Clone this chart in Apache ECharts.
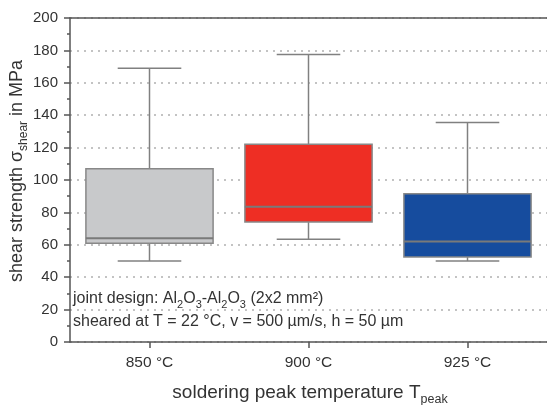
<!DOCTYPE html>
<html>
<head>
<meta charset="utf-8">
<script src="https://cdn.jsdelivr.net/npm/echarts@6/dist/echarts.min.js"></script>
<style>html,body{margin:0;padding:0;background:#fff;}#c{width:547px;height:405px;}</style>
</head>
<body>
<div id="c"></div>
<script>
const categories = ['850 °C', '900 °C', '925 °C'];
const minVals = [50, 63.5, 50];
const q1Vals = [61, 74, 52.5];
const medVals = [64, 83.5, 62];
const q3Vals = [107, 122, 91.5];
const maxVals = [169, 177.5, 135.5];
const yTicks = [0, 20, 40, 60, 80, 100, 120, 140, 160, 180, 200];

const boxColors = ['#c8c9cb', '#ee2e24', '#164c9e'];
const FONT = 'Liberation Sans, Arial, sans-serif';
const TXT = '#333333';

const chart = echarts.init(document.getElementById('c'), null, {renderer: 'canvas'});

const boxData = categories.map((c, i) => [i, minVals[i], q1Vals[i], medVals[i], q3Vals[i], maxVals[i]]);

function renderBox(params, api) {
  const i = api.value(0);
  const band = api.size([1, 0])[0];
  const bw = band * 0.8, cw = band * 0.4;
  const pMin = api.coord([i, api.value(1)]);
  const pQ1 = api.coord([i, api.value(2)]);
  const pMed = api.coord([i, api.value(3)]);
  const pQ3 = api.coord([i, api.value(4)]);
  const pMax = api.coord([i, api.value(5)]);
  const x = pMin[0];
  const ws = {stroke: '#808080', lineWidth: 1.5};
  return {
    type: 'group',
    children: [
      {type: 'line', shape: {x1: x, y1: pQ3[1], x2: x, y2: pMax[1]}, style: ws},
      {type: 'line', shape: {x1: x, y1: pMin[1], x2: x, y2: pQ1[1]}, style: ws},
      {type: 'line', shape: {x1: x - cw / 2, y1: pMax[1], x2: x + cw / 2, y2: pMax[1]}, style: ws},
      {type: 'line', shape: {x1: x - cw / 2, y1: pMin[1], x2: x + cw / 2, y2: pMin[1]}, style: ws},
      {type: 'rect', shape: {x: x - bw / 2, y: pQ3[1], width: bw, height: pQ1[1] - pQ3[1]},
        style: {fill: boxColors[i], stroke: '#888888', lineWidth: 1.5}},
      {type: 'line', shape: {x1: x - bw / 2, y1: pMed[1], x2: x + bw / 2, y2: pMed[1]},
        style: {stroke: '#7a7a7a', lineWidth: 2}}
    ]
  };
}

const axisLineStyle = {color: '#555555', width: 1.5};

const option = {
  animation: false,
  backgroundColor: '#ffffff',
  grid: [
    {left: 70, right: -3, top: 18, bottom: 63, containLabel: false}
  ],
  xAxis: [
    {gridIndex: 0, type: 'category', data: categories, position: 'bottom',
      axisLine: {show: true, onZero: false, lineStyle: axisLineStyle},
      axisTick: {show: true, alignWithLabel: true, length: 6, lineStyle: {color: '#555555', width: 1.5}},
      axisLabel: {show: true, fontSize: 15.5, fontFamily: FONT, color: TXT, margin: 13},
      splitLine: {show: false}},
    {gridIndex: 0, type: 'value', min: 0, max: 1, position: 'top',
      axisLine: {show: true, onZero: false, lineStyle: axisLineStyle},
      axisTick: {show: false}, axisLabel: {show: false}, splitLine: {show: false}}
  ],
  yAxis: [
    {gridIndex: 0, type: 'value', min: yTicks[0], max: yTicks[yTicks.length - 1], interval: yTicks[1] - yTicks[0],
      axisLine: {show: true, onZero: false, lineStyle: axisLineStyle},
      axisTick: {show: true, length: 6, lineStyle: {color: '#555555', width: 1.5}},
      minorTick: {show: true, splitNumber: 2, length: 3, lineStyle: {color: '#555555', width: 1.5}},
      axisLabel: {fontSize: 15, fontFamily: FONT, color: TXT, margin: 12},
      splitLine: {show: true, lineStyle: {color: '#b0b0b0', width: 1.5, type: [2, 5]}}}
  ],
  series: [{
    type: 'custom',
    xAxisIndex: 0,
    yAxisIndex: 0,
    data: boxData,
    encode: {x: 0, y: [1, 2, 3, 4, 5]},
    renderItem: renderBox,
    z: 5
  }],
  graphic: [
    {type: 'text', x: 17, y: 171, rotation: Math.PI / 2,
      style: {text: '{m|shear strength σ}{s|shear}{m| in MPa}', align: 'center', verticalAlign: 'middle',
        fill: TXT, font: '18px ' + FONT,
        rich: {m: {fontSize: 18, fontFamily: FONT, lineHeight: 26, fill: TXT, color: TXT},
               s: {fontSize: 12, fontFamily: FONT, lineHeight: 12, verticalAlign: 'bottom', fill: TXT, color: TXT}}}},
    {type: 'text', x: 310, y: 393,
      style: {text: '{m|soldering peak temperature T}{s|peak}', align: 'center', verticalAlign: 'middle',
        fill: TXT, font: '19px ' + FONT,
        rich: {m: {fontSize: 19, fontFamily: FONT, lineHeight: 26, fill: TXT, color: TXT},
               s: {fontSize: 12.5, fontFamily: FONT, lineHeight: 12, verticalAlign: 'bottom', fill: TXT, color: TXT}}}},
    {type: 'text', x: 73, y: 299, z: 10,
      style: {text: '{m|joint design: Al}{s|2}{m|O}{s|3}{m|-Al}{s|2}{m|O}{s|3}{m| (2x2 mm²)}', align: 'left', verticalAlign: 'middle',
        fill: TXT, font: '16px ' + FONT,
        rich: {m: {fontSize: 16, fontFamily: FONT, lineHeight: 22, fill: TXT, color: TXT},
               s: {fontSize: 11, fontFamily: FONT, lineHeight: 10, verticalAlign: 'bottom', fill: TXT, color: TXT}}}},
    {type: 'text', x: 73, y: 322, z: 10,
      style: {text: 'sheared at T = 22 °C, v = 500 µm/s, h = 50 µm', align: 'left', verticalAlign: 'middle',
        fill: TXT, font: '16px ' + FONT}}
  ]
};
chart.setOption(option);
</script>
</body>
</html>
